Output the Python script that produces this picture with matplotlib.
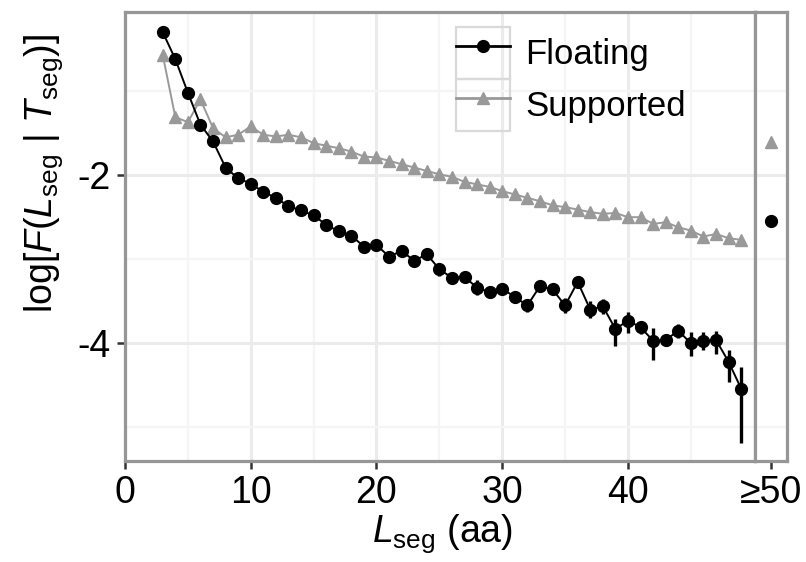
import matplotlib
matplotlib.use("Agg")
import matplotlib.pyplot as plt
from matplotlib.legend_handler import HandlerLine2D
from matplotlib.patches import Rectangle
import numpy as np

plt.rcParams['font.family'] = ['Liberation Sans', 'DejaVu Sans']
plt.rcParams['mathtext.fontset'] = 'custom'
plt.rcParams['mathtext.rm'] = 'Liberation Sans'
plt.rcParams['mathtext.it'] = 'Liberation Sans:italic'
plt.rcParams['mathtext.bf'] = 'Liberation Sans:bold'

# ---------------- data ----------------
L_seg = list(range(3, 50))
floating = [-0.30, -0.62, -1.02, -1.40, -1.60, -1.91, -2.04, -2.10, -2.20, -2.27,
            -2.37, -2.42, -2.48, -2.59, -2.67, -2.72, -2.85, -2.83, -2.97, -2.90,
            -3.02, -2.94, -3.12, -3.22, -3.21, -3.34, -3.39, -3.35, -3.45, -3.55,
            -3.32, -3.36, -3.55, -3.27, -3.60, -3.56, -3.83, -3.73, -3.81, -3.97,
            -3.96, -3.85, -4.00, -3.97, -3.96, -4.22, -4.54]
floating_err_up = [0.01] * 18 + [0.03, 0.03, 0.04, 0.04,
                   0.08, 0.06, 0.05, 0.09, 0.07, 0.06, 0.07, 0.08, 0.06, 0.06,
                   0.09, 0.05, 0.10, 0.09, 0.12, 0.10, 0.07, 0.15, 0.07, 0.08,
                   0.13, 0.11, 0.11, 0.14, 0.26]
floating_err_down = [0.01] * 18 + [0.03, 0.03, 0.04, 0.04,
                     0.08, 0.06, 0.05, 0.09, 0.07, 0.06, 0.07, 0.08, 0.06, 0.06,
                     0.09, 0.05, 0.10, 0.09, 0.20, 0.15, 0.08, 0.23, 0.07, 0.09,
                     0.15, 0.11, 0.17, 0.24, 0.65]
supported = [-0.57, -1.31, -1.37, -1.10, -1.44, -1.55, -1.52, -1.42, -1.52, -1.54,
             -1.52, -1.55, -1.62, -1.65, -1.68, -1.72, -1.78, -1.79, -1.83, -1.87,
             -1.91, -1.95, -1.99, -2.02, -2.08, -2.11, -2.14, -2.19, -2.23, -2.27,
             -2.31, -2.36, -2.38, -2.41, -2.44, -2.46, -2.45, -2.50, -2.50, -2.58,
             -2.56, -2.62, -2.66, -2.73, -2.70, -2.75, -2.77]
tail_x = [50]
tail_floating = [-2.54]
tail_supported = [-1.61]
x_ticks = [0, 10, 20, 30, 40]
x_tick_labels = ['0', '10', '20', '30', '40']
tail_tick_labels = ['\u226550']
y_ticks = [-2, -4]
y_tick_labels = ['-2', '-4']

# ---------------- style ----------------
BLACK = '#000000'
GREY = '#999999'
BORDER = '#969696'
GRID_MAJ = '#EBEBEB'
GRID_MIN = '#F5F5F5'
TICKFS = 27

W, H = 806, 562
fig = plt.figure(figsize=(W / 100, H / 100), dpi=100)
left_px, split_px, right_px = 125, 755, 787
top_px, bot_px = 12, 461
ax = fig.add_axes([left_px / W, 1 - bot_px / H, (split_px - left_px) / W, (bot_px - top_px) / H])
ax2 = fig.add_axes([split_px / W, 1 - bot_px / H, (right_px - split_px) / W, (bot_px - top_px) / H])

ylim = (-5.40, -0.06)

for a in (ax, ax2):
    a.set_ylim(*ylim)
    a.set_axisbelow(True)
    for s in a.spines.values():
        s.set_color(BORDER)
        s.set_linewidth(2.3)
    a.tick_params(axis='both', which='major', length=6, width=1.8, color='#333333',
                  labelsize=TICKFS, labelcolor='black', pad=4)
    a.tick_params(axis='both', which='minor', length=0)
    a.set_yticks([-1, -3, -5], minor=True)
    a.grid(True, which='major', axis='y', color=GRID_MAJ, lw=2.2)
    a.grid(True, which='minor', axis='y', color=GRID_MIN, lw=1.6)

ax.set_xlim(0, 50.1)
ax.set_xticks(x_ticks)
ax.set_xticklabels(x_tick_labels)
ax.set_xticks([5, 15, 25, 35, 45], minor=True)
ax.grid(True, which='major', axis='x', color=GRID_MAJ, lw=2.2)
ax.grid(True, which='minor', axis='x', color=GRID_MIN, lw=1.6)
ax.set_yticks(y_ticks)
ax.set_yticklabels(y_tick_labels)

ax2.set_xlim(49.5, 50.5)
ax2.set_xticks(tail_x)
ax2.set_xticklabels(tail_tick_labels)
ax2.set_yticks([-2, -4])
ax2.tick_params(axis='y', which='major', length=0, labelleft=False)

# ---------------- data marks ----------------
ax.errorbar(L_seg, floating, yerr=[floating_err_down, floating_err_up], fmt='none',
            ecolor=BLACK, elinewidth=2.4, capsize=0, zorder=3)
ax.plot(L_seg, supported, color=GREY, lw=1.4, marker='^', ms=8.5, mec=GREY, mfc=GREY,
        zorder=2, label='Supported')
ax.plot(L_seg, floating, color=BLACK, lw=1.4, marker='o', ms=8.5, mec=BLACK, mfc=BLACK,
        zorder=4, label='Floating')

ax2.plot(tail_x, tail_supported, ls='none', marker='^', ms=8.5, color=GREY)
ax2.plot(tail_x, tail_floating, ls='none', marker='o', ms=8.5, color=BLACK)

# ---------------- labels ----------------
ax.set_xlabel(r'$L_{\mathrm{seg}}$ (aa)', fontsize=27, labelpad=2)
ax.xaxis.set_label_coords((443 - left_px) / (split_px - left_px), -0.115)
ax.set_ylabel(r'log[$F$($L_{\mathrm{seg}}$ | $T_{\mathrm{seg}}$)]', fontsize=27)
ax.yaxis.set_label_coords(-0.095, 0.64)


# ---------------- legend with ggplot-like key boxes ----------------
class BoxedHandler(HandlerLine2D):
    def create_artists(self, legend, orig_handle, xdescent, ydescent, width, height,
                       fontsize, trans):
        arts = super().create_artists(legend, orig_handle, xdescent, ydescent, width,
                                      height, fontsize, trans)
        for a in arts:
            a.set_linewidth(2.0)
        rect = Rectangle((-xdescent, -ydescent), width, height, transform=trans,
                         fill=False, edgecolor='#D9D9D9', lw=1.6)
        return [rect] + list(arts)


handles, labels = ax.get_legend_handles_labels()
order = [1, 0]
leg = fig.legend([handles[i] for i in order], [labels[i] for i in order],
                 loc='upper left', bbox_to_anchor=(456 / W, 1 - 27 / H),
                 frameon=False, fontsize=25, borderpad=0, borderaxespad=0,
                 labelspacing=0.0, handlelength=1.55, handleheight=1.93,
                 handletextpad=0.45, numpoints=1,
                 handler_map={h: BoxedHandler(marker_pad=0) for h in handles})

fig.savefig('out.png', dpi=100)
